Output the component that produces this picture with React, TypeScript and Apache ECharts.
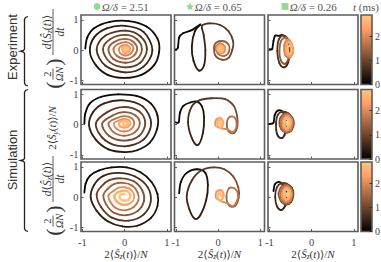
import React, { useEffect, useRef } from 'react';
import * as echarts from 'echarts';

// ---------------- data ----------------
const T_MAX = 2.87; // colour bar top (ms)
const xTicks = [-1, 0, 1];
const yTicks = [-1, 0, 1];
const cbTicks = [0, 1, 2];
const ratioLabels = ['2.51', '0.65', '0.26'];
const rowGroups = ['Experiment', 'Simulation'];

// each point: [x, y, t(ms)]
const expFast: number[][] = [
  [-0.93, 0.05, 0], [-0.88, 0.42, 0.025], [-0.72, 0.72, 0.05], [-0.35, 0.93, 0.075], [0.1, 0.96, 0.1], [0.52, 0.78, 0.125], [0.78, 0.38, 0.15], [0.82, -0.05, 0.175], [0.7, -0.5, 0.2], [0.4, -0.82, 0.225], [0.0, -0.92, 0.25], [-0.4, -0.82, 0.275], [-0.68, -0.5, 0.3], [-0.82, -0.05, 0.325],
  [-0.72, 0.42, 0.36], [-0.42, 0.72, 0.4], [0.02, 0.8, 0.44], [0.45, 0.6, 0.48], [0.66, 0.0, 0.52], [0.45, -0.55, 0.56], [0.02, -0.74, 0.6], [-0.45, -0.52, 0.64], [-0.66, 0.02, 0.68],
  [-0.45, 0.48, 0.72], [0.02, 0.64, 0.76], [0.38, 0.45, 0.8], [0.53, 0.02, 0.84], [0.37, -0.42, 0.88], [0.02, -0.57, 0.92], [-0.35, -0.4, 0.96], [-0.51, 0.03, 1.0],
  [-0.34, 0.36, 1.04], [0.02, 0.5, 1.08], [0.3, 0.35, 1.12], [0.41, 0.02, 1.16], [0.29, -0.3, 1.2], [0.02, -0.42, 1.24], [-0.27, -0.29, 1.28], [-0.38, 0.03, 1.32],
  [-0.24, 0.27, 1.36], [0.02, 0.37, 1.4], [0.22, 0.26, 1.44], [0.3, 0.03, 1.48], [0.21, -0.2, 1.52], [0.02, -0.29, 1.56], [-0.18, -0.19, 1.6], [-0.26, 0.04, 1.64],
  [-0.15, 0.2, 1.68], [0.03, 0.26, 1.72], [0.17, 0.18, 1.76], [0.21, 0.03, 1.8], [0.14, -0.12, 1.84], [0.02, -0.18, 1.88], [-0.1, -0.11, 1.92],
  [-0.13, 0.05, 1.96], [-0.06, 0.15, 2.0], [0.06, 0.16, 2.04], [0.13, 0.06, 2.08], [0.09, -0.07, 2.12], [-0.02, -0.08, 2.16], [-0.06, 0.04, 2.2],
  [-0.05, 0.1, 2.28], [0.04, 0.12, 2.34], [0.1, 0.05, 2.4], [0.07, -0.04, 2.46], [0.0, -0.05, 2.52], [-0.04, 0.03, 2.58],
  [0.0, 0.08, 2.64], [0.06, 0.07, 2.7], [0.07, 0.01, 2.76], [0.02, -0.01, 2.82], [0.01, 0.04, 2.87],
];
const expMid: number[][] = [
  [-1.0, 0.02, 0], [-0.95, 0.08, 0.02], [-0.92, 0.42, 0.05], [-0.82, 0.56, 0.08], [-0.62, 0.66, 0.12], [-0.47, 0.8, 0.16], [-0.42, 0.84, 0.2],
  [-0.55, 0.62, 0.25], [-0.62, 0.12, 0.3], [-0.58, -0.35, 0.35], [-0.45, -0.68, 0.4], [-0.33, -0.5, 0.45], [-0.3, 0.0, 0.5], [-0.34, 0.5, 0.55], [-0.38, 0.8, 0.6],
  [-0.2, 0.88, 0.67], [0.05, 0.83, 0.74], [0.25, 0.62, 0.81], [0.36, 0.28, 0.88], [0.34, 0.02, 0.95], [0.25, -0.26, 1.02], [0.09, -0.32, 1.09], [-0.07, -0.16, 1.16], [-0.08, 0.18, 1.23], [0.08, 0.3, 1.3], [0.24, 0.2, 1.37], [0.26, -0.05, 1.44], [0.14, -0.2, 1.51],
  [0.0, -0.12, 1.6], [-0.05, 0.1, 1.7], [0.05, 0.22, 1.8], [0.16, 0.12, 1.9], [0.15, -0.06, 2.0], [0.04, -0.1, 2.1], [-0.03, 0.05, 2.2], [0.05, 0.16, 2.3], [0.13, 0.08, 2.4], [0.1, -0.05, 2.5], [0.01, -0.02, 2.6], [0.02, 0.1, 2.7], [0.08, 0.07, 2.8], [0.06, 0.02, 2.87],
];
const expSlow: number[][] = [
  [-0.99, 0.03, 0], [-0.93, 0.04, 0.03], [-0.9, 0.3, 0.07], [-0.86, 0.48, 0.11], [-0.77, 0.47, 0.16], [-0.7, 0.5, 0.22],
  [-0.58, 0.4, 0.3], [-0.52, 0.0, 0.38], [-0.55, -0.4, 0.46], [-0.65, -0.57, 0.54], [-0.76, -0.43, 0.62], [-0.81, -0.03, 0.7], [-0.77, 0.36, 0.78], [-0.66, 0.48, 0.86],
  [-0.56, 0.32, 0.94], [-0.52, -0.02, 1.02], [-0.56, -0.34, 1.1], [-0.64, -0.46, 1.18], [-0.73, -0.33, 1.26], [-0.76, -0.02, 1.34], [-0.72, 0.3, 1.42], [-0.62, 0.4, 1.5],
  [-0.5, 0.25, 1.58], [-0.45, -0.05, 1.66], [-0.52, -0.25, 1.74], [-0.62, -0.15, 1.82], [-0.64, 0.15, 1.9], [-0.57, 0.33, 1.98],
  [-0.48, 0.22, 2.06], [-0.44, -0.03, 2.14], [-0.5, -0.2, 2.22], [-0.59, -0.12, 2.3], [-0.6, 0.12, 2.38], [-0.54, 0.27, 2.46],
  [-0.49, 0.18, 2.54], [-0.47, 0.0, 2.62], [-0.51, -0.13, 2.7], [-0.56, -0.06, 2.76], [-0.56, 0.1, 2.82], [-0.52, 0.14, 2.87],
];
const syFast: number[][] = [
  [-0.95, 0.02, 0], [-0.93, 0.35, 0.03], [-0.82, 0.7, 0.06], [-0.55, 0.92, 0.09], [-0.15, 1.0, 0.12], [0.3, 0.94, 0.15], [0.62, 0.7, 0.18], [0.78, 0.3, 0.21], [0.77, -0.15, 0.24], [0.6, -0.6, 0.27], [0.3, -0.85, 0.3], [0.0, -0.91, 0.33], [-0.38, -0.82, 0.36], [-0.68, -0.5, 0.39], [-0.84, -0.02, 0.42],
  [-0.74, 0.42, 0.46], [-0.48, 0.7, 0.5], [-0.03, 0.8, 0.54], [0.43, 0.6, 0.58], [0.63, 0.05, 0.62], [0.45, -0.5, 0.66], [0.0, -0.72, 0.7], [-0.46, -0.52, 0.74], [-0.68, 0.02, 0.78],
  [-0.4, 0.42, 0.83], [-0.02, 0.58, 0.88], [0.35, 0.43, 0.93], [0.49, 0.04, 0.98], [0.35, -0.37, 1.03], [-0.01, -0.53, 1.08], [-0.37, -0.37, 1.13], [-0.53, 0.03, 1.18],
  [-0.28, 0.3, 1.23], [-0.01, 0.41, 1.28], [0.26, 0.3, 1.33], [0.36, 0.04, 1.38], [0.25, -0.25, 1.43], [-0.01, -0.37, 1.48], [-0.26, -0.25, 1.53], [-0.38, 0.04, 1.58],
  [-0.19, 0.21, 1.63], [-0.01, 0.28, 1.68], [0.17, 0.21, 1.73], [0.23, 0.04, 1.78], [0.16, -0.15, 1.83], [-0.01, -0.23, 1.88], [-0.18, -0.15, 1.93], [-0.25, 0.04, 1.98],
  [-0.11, 0.15, 2.04], [0.0, 0.19, 2.1], [0.1, 0.14, 2.16], [0.14, 0.04, 2.22], [0.1, -0.06, 2.28], [0.0, -0.1, 2.34], [-0.1, -0.06, 2.4], [-0.13, 0.04, 2.46],
  [-0.06, 0.11, 2.53], [0.03, 0.12, 2.6], [0.08, 0.05, 2.67], [0.04, -0.02, 2.74], [-0.03, 0.0, 2.8], [-0.03, 0.06, 2.85], [0.01, 0.07, 2.87],
];
const syMid: number[][] = [
  [-1.0, 0.07, 0], [-0.93, 0.08, 0.02], [-0.9, 0.4, 0.06], [-0.82, 0.62, 0.1], [-0.66, 0.73, 0.15], [-0.5, 0.76, 0.2],
  [-0.38, 0.6, 0.25], [-0.33, 0.25, 0.3], [-0.36, -0.3, 0.37], [-0.48, -0.68, 0.44], [-0.62, -0.45, 0.51], [-0.71, 0.1, 0.58], [-0.62, 0.6, 0.65], [-0.44, 0.8, 0.72],
  [-0.15, 0.87, 0.82], [0.17, 0.84, 0.92], [0.37, 0.62, 1.02], [0.45, 0.29, 1.12], [0.46, -0.04, 1.22], [0.38, -0.28, 1.3],
  [0.25, -0.22, 1.38], [0.21, 0.05, 1.46], [0.28, 0.26, 1.54], [0.4, 0.22, 1.62], [0.44, -0.02, 1.7], [0.36, -0.24, 1.78], [0.22, -0.16, 1.86],
  [0.08, -0.13, 1.96], [-0.05, -0.04, 2.06], [-0.05, 0.14, 2.16], [0.05, 0.21, 2.26], [0.12, 0.08, 2.36], [0.08, -0.1, 2.46], [-0.02, -0.02, 2.56], [0.01, 0.13, 2.66], [0.08, 0.1, 2.74], [0.07, 0.0, 2.82], [0.03, 0.04, 2.87],
];
const sySlow: number[][] = [
  [-1.0, 0.02, 0], [-0.9, 0.06, 0.04], [-0.87, 0.32, 0.09], [-0.8, 0.46, 0.14], [-0.7, 0.44, 0.2],
  [-0.64, 0.3, 0.27], [-0.6, -0.02, 0.35], [-0.64, -0.35, 0.43], [-0.73, -0.45, 0.5], [-0.82, -0.3, 0.57], [-0.84, 0.02, 0.64], [-0.8, 0.32, 0.71], [-0.7, 0.42, 0.78],
  [-0.56, 0.38, 0.9], [-0.45, 0.22, 0.95], [-0.42, 0.02, 1.0], [-0.48, -0.2, 1.05], [-0.6, -0.27, 1.1], [-0.72, -0.15, 1.15], [-0.76, 0.1, 1.2], [-0.7, 0.3, 1.25],
  [-0.58, 0.36, 1.32], [-0.47, 0.22, 1.38], [-0.44, 0.03, 1.44], [-0.49, -0.17, 1.5], [-0.6, -0.24, 1.56], [-0.7, -0.12, 1.62], [-0.72, 0.1, 1.68], [-0.66, 0.28, 1.74],
  [-0.57, 0.32, 1.8], [-0.48, 0.2, 1.86], [-0.46, 0.04, 1.92], [-0.5, -0.13, 1.98], [-0.59, -0.19, 2.04], [-0.67, -0.08, 2.1], [-0.68, 0.1, 2.16], [-0.62, 0.24, 2.22],
  [-0.56, 0.26, 2.28], [-0.5, 0.16, 2.34], [-0.49, 0.04, 2.4], [-0.53, -0.08, 2.46], [-0.6, -0.12, 2.52], [-0.64, -0.02, 2.58], [-0.64, 0.12, 2.64], [-0.6, 0.2, 2.7],
  [-0.55, 0.17, 2.75], [-0.53, 0.06, 2.8], [-0.57, -0.02, 2.84], [-0.6, 0.08, 2.87],
];
const dzFast: number[][] = [
  [-0.95, 0.15, 0], [-0.92, 0.45, 0.03], [-0.82, 0.7, 0.06], [-0.6, 0.88, 0.09], [-0.3, 0.98, 0.12], [0.05, 0.98, 0.15], [0.38, 0.82, 0.18], [0.64, 0.5, 0.21], [0.78, 0.1, 0.24], [0.78, -0.3, 0.27], [0.62, -0.7, 0.3], [0.3, -0.95, 0.33], [-0.05, -0.97, 0.36], [-0.4, -0.8, 0.39], [-0.66, -0.45, 0.42], [-0.8, -0.02, 0.45],
  [-0.72, 0.4, 0.49], [-0.5, 0.7, 0.53], [-0.15, 0.8, 0.57], [0.25, 0.68, 0.61], [0.55, 0.32, 0.65], [0.62, -0.15, 0.69], [0.45, -0.58, 0.73], [0.1, -0.78, 0.77], [-0.3, -0.68, 0.81], [-0.56, -0.32, 0.85], [-0.66, 0.08, 0.89],
  [-0.55, 0.35, 0.93], [-0.36, 0.56, 0.97], [-0.08, 0.62, 1.01], [0.22, 0.52, 1.05], [0.42, 0.22, 1.09], [0.46, -0.13, 1.13], [0.32, -0.45, 1.17], [0.05, -0.6, 1.21], [-0.25, -0.52, 1.25], [-0.43, -0.25, 1.29], [-0.5, 0.06, 1.33],
  [-0.4, 0.27, 1.38], [-0.25, 0.43, 1.43], [-0.03, 0.47, 1.48], [0.18, 0.38, 1.53], [0.31, 0.15, 1.58], [0.33, -0.1, 1.63], [0.22, -0.33, 1.68], [0.02, -0.44, 1.73], [-0.2, -0.37, 1.78], [-0.33, -0.17, 1.83], [-0.38, 0.06, 1.88],
  [-0.26, 0.2, 1.94], [-0.14, 0.31, 2.0], [0.02, 0.32, 2.06], [0.16, 0.23, 2.12], [0.23, 0.06, 2.18], [0.2, -0.12, 2.24], [0.08, -0.24, 2.3], [-0.08, -0.24, 2.36], [-0.2, -0.12, 2.42], [-0.24, 0.05, 2.48],
  [-0.15, 0.16, 2.54], [-0.04, 0.21, 2.6], [0.08, 0.18, 2.66], [0.14, 0.06, 2.71], [0.1, -0.08, 2.76], [-0.02, -0.12, 2.8], [-0.11, -0.04, 2.83], [-0.09, 0.08, 2.85], [0.0, 0.1, 2.87],
];
const dzMid: number[][] = [
  [-0.92, 0.12, 0], [-0.88, 0.5, 0.05], [-0.74, 0.8, 0.1], [-0.5, 0.92, 0.16], [-0.3, 0.8, 0.22],
  [-0.24, 0.4, 0.28], [-0.28, -0.1, 0.35], [-0.42, -0.6, 0.42], [-0.55, -0.72, 0.48], [-0.68, -0.4, 0.55], [-0.74, 0.05, 0.62], [-0.62, 0.55, 0.68], [-0.4, 0.88, 0.74],
  [-0.1, 0.98, 0.84], [0.15, 0.92, 0.94], [0.36, 0.68, 1.04], [0.48, 0.32, 1.14], [0.49, -0.02, 1.24], [0.4, -0.3, 1.32],
  [0.26, -0.28, 1.4], [0.2, 0.02, 1.48], [0.27, 0.3, 1.56], [0.42, 0.25, 1.64], [0.47, -0.02, 1.72], [0.36, -0.3, 1.8], [0.22, -0.2, 1.88],
  [0.08, -0.14, 1.98], [-0.05, -0.02, 2.08], [-0.03, 0.18, 2.18], [0.08, 0.22, 2.28], [0.13, 0.06, 2.38], [0.06, -0.12, 2.48], [-0.02, 0.02, 2.58], [0.04, 0.14, 2.68], [0.07, 0.04, 2.8],
];
const dzSlow: number[][] = [
  [-0.9, 0.2, 0], [-0.87, 0.42, 0.05], [-0.78, 0.5, 0.1], [-0.7, 0.45, 0.15],
  [-0.62, 0.3, 0.22], [-0.59, 0.0, 0.3], [-0.63, -0.3, 0.38], [-0.72, -0.43, 0.46], [-0.82, -0.3, 0.54], [-0.86, 0.02, 0.62], [-0.82, 0.32, 0.7], [-0.72, 0.45, 0.78],
  [-0.58, 0.44, 0.9], [-0.46, 0.3, 0.95], [-0.43, 0.08, 1.0], [-0.48, -0.16, 1.05], [-0.6, -0.25, 1.1], [-0.73, -0.12, 1.15], [-0.78, 0.12, 1.2], [-0.7, 0.36, 1.25],
  [-0.59, 0.4, 1.32], [-0.48, 0.28, 1.38], [-0.45, 0.08, 1.44], [-0.5, -0.12, 1.5], [-0.6, -0.2, 1.56], [-0.7, -0.1, 1.62], [-0.73, 0.12, 1.68], [-0.67, 0.32, 1.74],
  [-0.58, 0.36, 1.8], [-0.49, 0.25, 1.86], [-0.47, 0.08, 1.92], [-0.51, -0.08, 1.98], [-0.6, -0.14, 2.04], [-0.68, -0.05, 2.1], [-0.69, 0.12, 2.16], [-0.63, 0.27, 2.22],
  [-0.57, 0.3, 2.28], [-0.51, 0.2, 2.34], [-0.5, 0.08, 2.4], [-0.54, -0.03, 2.46], [-0.6, -0.08, 2.52], [-0.65, 0.02, 2.58], [-0.65, 0.15, 2.64], [-0.61, 0.24, 2.7],
  [-0.56, 0.22, 2.75], [-0.54, 0.1, 2.8], [-0.58, 0.03, 2.84], [-0.6, 0.12, 2.87],
];

const panels: number[][][][] = [
  [expFast, expMid, expSlow],
  [syFast, syMid, sySlow],
  [dzFast, dzMid, dzSlow],
];

// ---------------- style / layout ----------------
const SERIF = '"Liberation Serif", "DejaVu Serif", serif';
const SANS = '"Liberation Sans", "DejaVu Sans", sans-serif';
const TXT = '#333';
const TICKC = '#444';
const FRAME = '#5c5c5c';
const GREEN = '#8fdc8f';
const COL_LEFT = [81, 174.5, 268];
const ROW_TOP = [15, 89.5, 162];
const PW = 90;
const PH = 69.5;
const CB_LEFT = 361;
const CB_W = 11;
const X_MIN = -1.03, X_MAX = 1.1, Y_MIN = -1.14, Y_MAX = 1.16;
const WIDE_FROM = [2.3, 2.2, 1.5]; // per column: time after which strokes are drawn thicker

function copper(t: number) {
  const f = Math.max(0, Math.min(1, t / T_MAX));
  const r = Math.round(255 * Math.min(1, 1.25 * f));
  const g = Math.round(255 * 0.7812 * f);
  const b = Math.round(255 * 0.4975 * f);
  return `rgb(${r},${g},${b})`;
}

function makeRender(pts: number[][], wideFrom: number) {
  return (params: any, api: any) => {
    const i = params.dataIndex;
    if (i >= pts.length - 1) return null;
    const P = (k: number) => {
      const kk = Math.max(0, Math.min(pts.length - 1, k));
      return api.coord([pts[kk][0], pts[kk][1]]);
    };
    const p0 = P(i - 1), p1 = P(i), p2 = P(i + 1), p3 = P(i + 2);
    const c1 = [p1[0] + (p2[0] - p0[0]) / 6, p1[1] + (p2[1] - p0[1]) / 6];
    const c2 = [p2[0] - (p3[0] - p1[0]) / 6, p2[1] - (p3[1] - p1[1]) / 6];
    const t = (pts[i][2] + pts[i + 1][2]) / 2;
    return {
      type: 'bezierCurve',
      shape: { x1: p1[0], y1: p1[1], x2: p2[0], y2: p2[1], cpx1: c1[0], cpy1: c1[1], cpx2: c2[0], cpy2: c2[1] },
      style: { stroke: copper(t), lineWidth: t > wideFrom ? 2.4 : 1.8, fill: 'none', lineCap: 'round' },
    };
  };
}

const gRich = (size = 11) => ({
  n: { fontFamily: SERIF, fontSize: size, fill: TXT, lineHeight: 14, verticalAlign: 'middle' },
  i: { fontFamily: SERIF, fontSize: size, fontStyle: 'italic', fill: TXT, lineHeight: 14, verticalAlign: 'middle' },
  s: { fontFamily: SERIF, fontSize: size * 0.68, fontStyle: 'italic', fill: TXT, lineHeight: 8, verticalAlign: 'bottom' },
});
const aRich = {
  n: { fontFamily: SERIF, fontSize: 11, color: TXT, lineHeight: 14, verticalAlign: 'middle' },
  i: { fontFamily: SERIF, fontSize: 11, fontStyle: 'italic', color: TXT, lineHeight: 14, verticalAlign: 'middle' },
  s: { fontFamily: SERIF, fontSize: 7.5, fontStyle: 'italic', color: TXT, lineHeight: 8, verticalAlign: 'bottom' },
};

function gText(x: number, y: number, text: string, extra: any = {}, rotation = 0) {
  return {
    type: 'text', x, y, rotation, silent: true,
    style: {
      text, fill: TXT, font: `11px ${SERIF}`,
      textAlign: 'center', align: 'center', textVerticalAlign: 'middle', verticalAlign: 'middle',
      ...extra,
    },
  };
}

function fracLabel(cx: number, cy: number) {
  return {
    type: 'group', x: cx, y: cy, rotation: Math.PI / 2, silent: true,
    children: [
      gText(-37, 0, '(', { font: `22px ${SERIF}` }),
      gText(-26, -5.5, '2', { font: `10.5px ${SERIF}` }),
      { type: 'line', shape: { x1: -31.5, y1: 0, x2: -20.5, y2: 0 }, style: { stroke: TXT, lineWidth: 0.8 } },
      gText(-26, 6, 'ΩN', { font: `italic 10.5px ${SERIF}` }),
      gText(-14, 0, ')', { font: `22px ${SERIF}` }),
      gText(16, -6.5, '{i|d}{n|⟨}{i|Ŝ}{s|z}{n|(}{i|t}{n|)⟩}', { rich: gRich(11.5) }),
      { type: 'line', shape: { x1: -7, y1: 0, x2: 39, y2: 0 }, style: { stroke: TXT, lineWidth: 0.8 } },
      gText(16, 7, '{i|dt}', { rich: gRich(11.5) }),
    ],
  };
}

function brace(top: number, bottom: number) {
  const mid = (top + bottom) / 2;
  return {
    type: 'polyline', silent: true,
    shape: {
      points: [[28, top], [25.5, top + 1], [24.5, top + 3], [24.5, mid - 2], [23.5, mid - 0.8], [20.5, mid], [23.5, mid + 0.8], [24.5, mid + 2], [24.5, bottom - 3], [25.5, bottom - 1], [28, bottom]],
    },
    style: { stroke: '#222', lineWidth: 1.3, fill: 'none' },
  };
}

function starPoints(cx: number, cy: number, ro: number, ri: number) {
  const pts: number[][] = [];
  for (let k = 0; k < 10; k++) {
    const a = -Math.PI / 2 + (k * Math.PI) / 5;
    const r = k % 2 === 0 ? ro : ri;
    pts.push([cx + r * Math.cos(a), cy + r * Math.sin(a)]);
  }
  return pts;
}

function buildOption() {
  const grid: any[] = [];
  const xAxis: any[] = [];
  const yAxis: any[] = [];
  const series: any[] = [];
  const xName = '{n|2⟨}{i|Ŝ}{s|z}{n|(}{i|t}{n|)⟩/}{i|N}';

  for (let r = 0; r < 3; r++) {
    for (let c = 0; c < 3; c++) {
      const k = grid.length;
      grid.push({
        left: COL_LEFT[c], top: ROW_TOP[r], width: PW, height: PH,
        show: true, borderColor: FRAME, borderWidth: 1.6, backgroundColor: 'transparent',
        containLabel: false, outerBoundsMode: 'none',
      });
      xAxis.push({
        gridIndex: k, type: 'value', min: X_MIN, max: X_MAX, position: 'bottom',
        axisLine: { show: false, onZero: false }, splitLine: { show: false },
        axisTick: { show: true, inside: true, length: 2.5, customValues: xTicks, lineStyle: { color: FRAME, width: 1 } },
        axisLabel: { show: r === 2, customValues: xTicks, fontFamily: SERIF, fontSize: 10.5, color: TICKC, margin: 5 },
        name: r === 2 ? xName : '', nameLocation: 'middle', nameGap: 15,
        nameTextStyle: { fontFamily: SERIF, fontSize: 11, color: TXT, rich: aRich },
      });
      yAxis.push({
        gridIndex: k, type: 'value', min: Y_MIN, max: Y_MAX, position: 'left',
        axisLine: { show: false, onZero: false }, splitLine: { show: false },
        axisTick: { show: true, inside: true, length: 2.5, customValues: yTicks, lineStyle: { color: FRAME, width: 1 } },
        axisLabel: { show: c === 0, customValues: yTicks, fontFamily: SERIF, fontSize: 10.5, color: TICKC, margin: 2.5 },
      });
      const pts = panels[r][c];
      series.push({
        type: 'custom', xAxisIndex: k, yAxisIndex: k, silent: true, clip: true,
        data: pts, encode: { x: 0, y: 1 },
        renderItem: makeRender(pts, WIDE_FROM[c]),
      });
    }
  }
  for (let r = 0; r < 3; r++) {
    const k = grid.length;
    grid.push({
      left: CB_LEFT, top: ROW_TOP[r], width: CB_W, height: PH,
      show: true, borderColor: FRAME, borderWidth: 1.6,
      backgroundColor: {
        type: 'linear', x: 0, y: 1, x2: 0, y2: 0,
        colorStops: [
          { offset: 0, color: copper(0) },
          { offset: 0.8, color: copper(0.8 * T_MAX) },
          { offset: 1, color: copper(T_MAX) },
        ],
      },
      containLabel: false, outerBoundsMode: 'none',
    });
    xAxis.push({ gridIndex: k, type: 'value', min: 0, max: 1, show: false });
    yAxis.push({
      gridIndex: k, type: 'value', min: 0, max: T_MAX, position: 'right',
      axisLine: { show: false, onZero: false }, splitLine: { show: false },
      axisTick: { show: true, inside: true, length: 2.5, customValues: cbTicks, lineStyle: { color: '#333', width: 1 } },
      axisLabel: { customValues: cbTicks, fontFamily: SERIF, fontSize: 10, color: TICKC, margin: 3 },
    });
  }

  const topRich = {
    i: { fontFamily: SERIF, fontSize: 11, fontStyle: 'italic', fill: '#555' },
    n: { fontFamily: SERIF, fontSize: 11, fill: '#555' },
  };
  const markX = [97, 190, 285];
  const graphic: any[] = [
    { type: 'circle', silent: true, shape: { cx: markX[0], cy: 6.5, r: 3.4 }, style: { fill: GREEN } },
    { type: 'polygon', silent: true, shape: { points: starPoints(markX[1], 6.8, 4.4, 1.9) }, style: { fill: GREEN } },
    { type: 'rect', silent: true, shape: { x: markX[2] - 3.4, y: 3.1, width: 6.8, height: 6.8 }, style: { fill: GREEN } },
    ...ratioLabels.map((v, j) => gText(markX[j] + 4.8, 6.8, `{i|Ω/δ}{n| = ${v}}`, { rich: topRich, textAlign: 'left', align: 'left' })),
    gText(366, 6.8, '{i|t}{n| (ms)}', { rich: topRich }),
    gText(12, 47, rowGroups[0], { font: `13px ${SANS}`, fill: '#333' }, Math.PI / 2),
    gText(12, 160, rowGroups[1], { font: `13px ${SANS}`, fill: '#333' }, Math.PI / 2),
    brace(16.5, 86),
    brace(89.5, 231.5),
    fracLabel(53, 48),
    fracLabel(53, 195),
    gText(52, 128, '{n|2⟨}{i|Ŝ}{s|y}{n|(}{i|t}{n|)⟩/}{i|N}', { rich: gRich(11) }, Math.PI / 2),
  ];

  return { animation: false, backgroundColor: '#fff', grid, xAxis, yAxis, series, graphic };
}

export default function App() {
  const ref = useRef<HTMLDivElement>(null);
  useEffect(() => {
    const chart = echarts.init(ref.current!, null, { renderer: 'svg' });
    chart.setOption(buildOption() as any);
    return () => chart.dispose();
  }, []);
  return <div ref={ref} style={{ position: 'fixed', left: 0, top: 0, width: 381, height: 262 }} />;
}
